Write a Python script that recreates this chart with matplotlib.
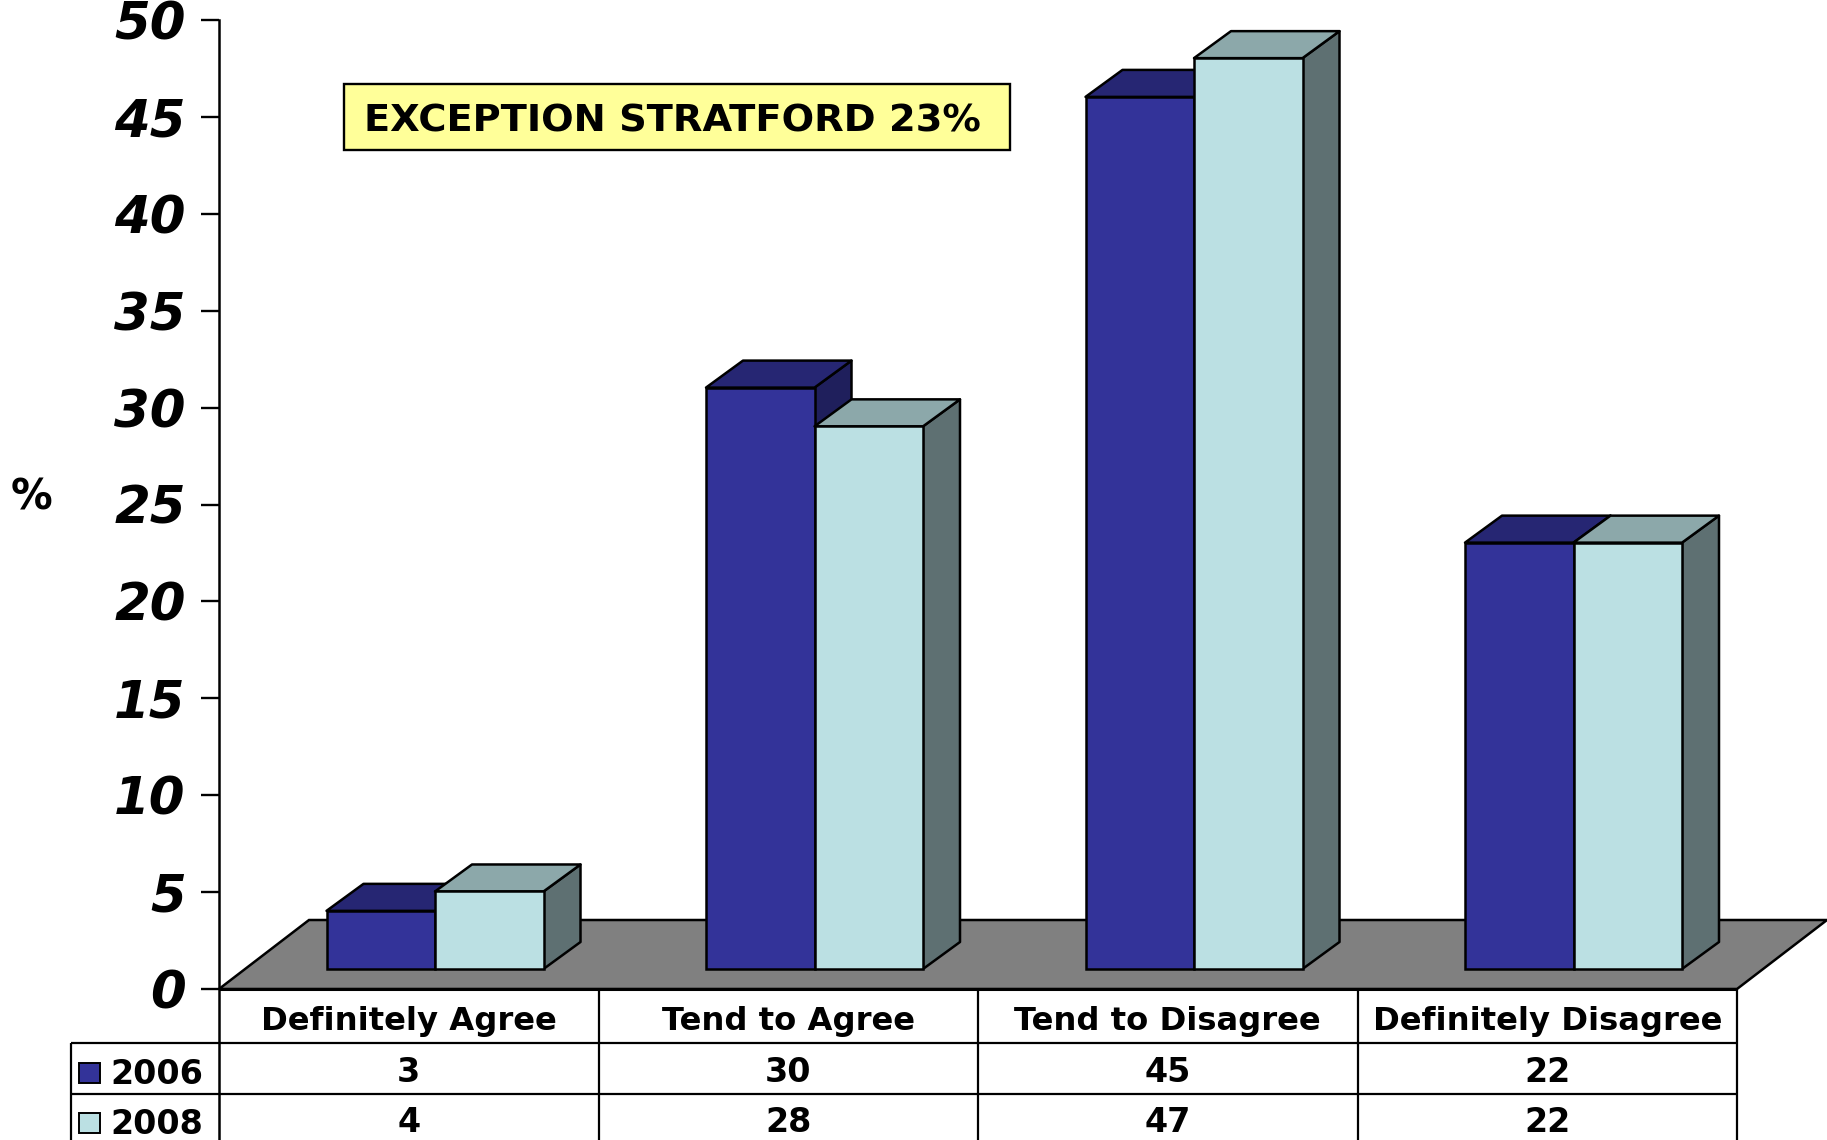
from matplotlib import pyplot as plt
from matplotlib.patches import Polygon, Rectangle

categories = ['Definitely Agree', 'Tend to Agree', 'Tend to Disagree', 'Definitely Disagree']
years = ['2006', '2008']
values_2006 = [3, 30, 45, 22]
values_2008 = [4, 28, 47, 22]
y_ticks = [0, 5, 10, 15, 20, 25, 30, 35, 40, 45, 50]

W, H = 1827, 1140
AX_L, AX_R, AX_T, AX_B = 219, 1737, 20, 989
px_x = (AX_R - AX_L) / 4.0     # pixels per category
px_y = (AX_B - AX_T) / 50.0    # pixels per percent

fig = plt.figure(figsize=(W / 100, H / 100), dpi=100, facecolor='white')
ax = fig.add_axes([AX_L / W, 1 - AX_B / H, (AX_R - AX_L) / W, (AX_B - AX_T) / H])
ax.set_xlim(0, 4)
ax.set_ylim(0, 50)
ax.patch.set_visible(False)
for s in ['top', 'right', 'bottom']:
    ax.spines[s].set_visible(False)
ax.spines['left'].set_linewidth(1.8)
ax.spines['left'].set_bounds(-151 / px_y, 50)
ax.set_xticks([])
ax.set_yticks(y_ticks)
ax.tick_params(axis='y', length=13, width=1.7, pad=11)
for lab in ax.get_yticklabels():
    lab.set_fontsize(37)
    lab.set_fontweight('bold')
    lab.set_fontstyle('italic')
    lab.set_family('DejaVu Sans')

LW = 1.8
# floor
floor_dx, floor_dy = 90 / px_x, 69 / px_y
ax.add_patch(Polygon([(0, 0), (floor_dx, floor_dy), (4 + floor_dx, floor_dy), (4, 0)],
                     closed=True, fc='#808080', ec='black', lw=LW, clip_on=False, zorder=1))

# bars, front face through ax.bar, top and side as polygons
bar_w = 108.5 / px_x
first = 107.5 / px_x
base = 20 / px_y
dx, dy = 37 / px_x, 27 / px_y
colors = [('#333399', '#262673', '#1F1F5C'), ('#BBE0E3', '#8CA8AA', '#5E7072')]

z = 2
for g in range(4):
    for k, vals in enumerate([values_2006, values_2008]):
        x0 = g + first + k * bar_w
        x1 = x0 + bar_w
        top = base + vals[g]
        front, upper, side = colors[k]
        ax.add_patch(Polygon([(x1, base), (x1 + dx, base + dy), (x1 + dx, top + dy), (x1, top)],
                             closed=True, fc=side, ec='black', lw=LW, joinstyle='round', clip_on=False, zorder=z))
        ax.add_patch(Polygon([(x0, top), (x0 + dx, top + dy), (x1 + dx, top + dy), (x1, top)],
                             closed=True, fc=upper, ec='black', lw=LW, joinstyle='round', clip_on=False, zorder=z))
        ax.bar(x0, vals[g], width=bar_w, bottom=base, align='edge', color=front,
               edgecolor='black', linewidth=LW, clip_on=False, zorder=z + 1)
        z += 2

# table under the axis
row1 = -54 / px_y
row2 = -105 / px_y
bottom = -151 / px_y
left = (71 - AX_L) / px_x
kw = dict(color='black', clip_on=False, zorder=50, solid_capstyle='butt')
ax.plot([0, 4], [0, 0], lw=2.2, **kw)
ax.plot([left, 4], [row1, row1], lw=1.6, **kw)
ax.plot([left, 4], [row2, row2], lw=1.6, **kw)
ax.plot([left, left], [row1, bottom], lw=1.6, **kw)
for c in range(1, 5):
    ax.plot([c, c], [0, bottom], lw=1.6, **kw)

TXT = dict(ha='center', va='center', fontweight='bold', color='black', family='DejaVu Sans', clip_on=False, zorder=60)
for c in range(4):
    ax.text(c + 0.5, -32.5 / px_y, categories[c], fontsize=23.2, **TXT)
    ax.text(c + 0.5, -84 / px_y, str(values_2006[c]), fontsize=24, **TXT)
    ax.text(c + 0.5, -133 / px_y, str(values_2008[c]), fontsize=24, **TXT)

# legend keys in the table
for k, y in enumerate([-74 / px_y, -124 / px_y]):
    ax.add_patch(Rectangle(((79 - AX_L) / px_x, y - 20 / px_y), 21 / px_x, 20 / px_y,
                           fc=colors[k][0], ec='black', lw=1.4, clip_on=False, zorder=60))
    ax.text((157 - AX_L) / px_x, y - 11 / px_y, years[k], fontsize=24,
            ha='center', va='center', fontweight='bold', family='DejaVu Sans', clip_on=False, zorder=60)

# note box
ax.add_patch(Rectangle(((344 - AX_L) / px_x, (AX_B - 150) / px_y), 666 / px_x, 66 / px_y,
                       fc='#FFFF99', ec='black', lw=1.7, clip_on=False, zorder=70))
ax.text((672.5 - AX_L) / px_x, (AX_B - 122) / px_y, 'EXCEPTION STRATFORD 23%', fontsize=27.6,
        ha='center', va='center', fontweight='bold', family='DejaVu Sans', zorder=71)

ax.text((31 - AX_L) / px_x, (AX_B - 498) / px_y, '%', fontsize=30, ha='center', va='center',
        fontweight='bold', family='DejaVu Sans', clip_on=False)

fig.savefig('out.png', dpi=100)
